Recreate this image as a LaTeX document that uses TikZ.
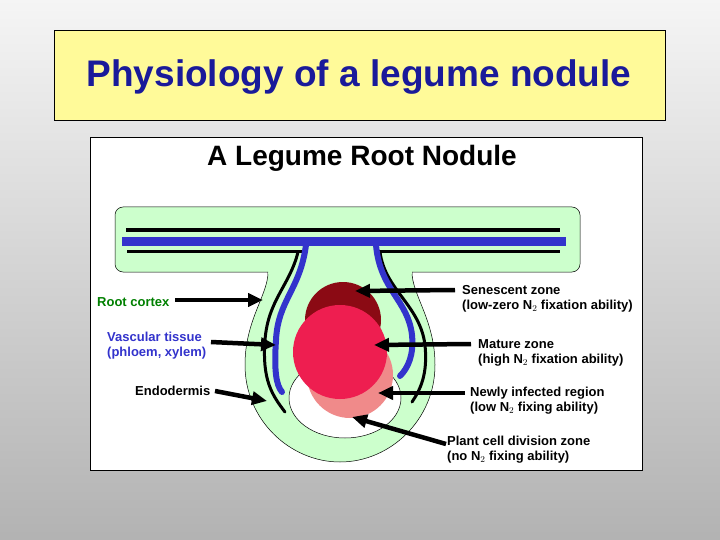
\documentclass[tikz,border=0pt]{standalone}
\usepackage{fontspec}
\setmainfont{Liberation Sans}
\usetikzlibrary{arrows.meta}
\definecolor{rootgreen}{HTML}{CCFFCC}
\definecolor{vasc}{HTML}{3333CC}
\definecolor{titleblue}{HTML}{1A1A9A}
\definecolor{darkred}{HTML}{8B0A14}
\definecolor{nodred}{HTML}{EE1E50}
\definecolor{nodpink}{HTML}{F08A8A}
\tikzset{
  lbl/.style={font=\bfseries\fontsize{13}{15}\selectfont, align=left, inner sep=0pt, anchor=west},
  arr/.style={line width=4.5pt, -{Triangle[length=15pt,width=13pt]}},
  vessel/.style={line width=6pt, vasc, line cap=round},
  endo/.style={line width=3pt, black, line cap=round},
}
\begin{document}
\begin{tikzpicture}[x=1pt,y=-1pt]
\shade[top color=gray!8, bottom color=gray!60] (0,0) rectangle (720,540);
\useasboundingbox (0,0) rectangle (720,540);
% title
\node[draw=black, line width=1pt, fill=yellow!40, minimum width=611pt, minimum height=90pt, anchor=north west] (titlebox) at (54,30) {};
\node[font=\bfseries\fontsize{37}{40}\selectfont, text=titleblue] (title) at (359,77) {Physiology of a legume nodule};
% panel
\node[draw=black, line width=1pt, fill=white, minimum width=552pt, minimum height=333pt, anchor=north west] (panel) at (90,137) {};
\node[font=\bfseries\fontsize{28}{30}\selectfont] (sub) at (362,158) {A Legume Root Nodule};
% root cortex (green)
\fill[rootgreen, rounded corners=8pt] (115,207) rectangle (580,272);
\filldraw[fill=rootgreen, line width=0.5pt] (268,272) .. controls (268,295) and (245,320) .. (245,365)
  .. controls (245,420) and (290,462) .. (340,462)
  .. controls (390,462) and (435,420) .. (435,365)
  .. controls (435,320) and (412,295) .. (412,272);
\fill[rootgreen] (268,265) rectangle (412,274);
\draw[line width=0.5pt, rounded corners=8pt] (268,272) -- (115,272) -- (115,207) -- (580,207) -- (580,272) -- (412,272);
% inner white zone
\filldraw[fill=white, line width=0.5pt] (345,398) ellipse [x radius=56, y radius=40];
% nodule
\fill[nodpink] (350,375) circle [radius=43];
\fill[darkred] (343,320) circle [radius=38];
\fill[nodred] (340,352) circle [radius=47];
% vascular lines
\draw[line width=3pt] (126,230) -- (560,230);
\draw[line width=3pt] (127,251) -- (302,251);
\draw[line width=3pt] (378,251) -- (560,251);
\draw[line width=9pt, vasc] (122,241) -- (566,241);
\draw[endo] (298,252) .. controls (290,285) and (268,300) .. (265,340) .. controls (262,380) and (272,395) .. (285,412);
\draw[endo] (380,252) .. controls (385,290) and (420,305) .. (425,345) .. controls (428,375) and (420,390) .. (412,402);
\draw[vessel] (306,245) .. controls (300,290) and (278,300) .. (276,340) .. controls (274,370) and (276,385) .. (282,392);
\draw[vessel] (376,245) .. controls (380,290) and (408,300) .. (412,335) .. controls (414,355) and (408,368) .. (400,376);
% labels
\node[lbl, text=green!50!black] (rc) at (97,302) {Root cortex};
\node[lbl, text=vasc] (vt) at (107,346) {Vascular tissue\\(phloem, xylem)};
\node[lbl] (en) at (135,391) {Endodermis};
\node[lbl] (sz) at (462,299) {Senescent zone\\(low-zero N$_2$ fixation ability)};
\node[lbl] (mz) at (478,353) {Mature zone\\(high N$_2$ fixation ability)};
\node[lbl] (ni) at (470,401) {Newly infected region\\(low N$_2$ fixing ability)};
\node[lbl] (pc) at (447,450) {Plant cell division zone\\(no N$_2$ fixing ability)};
\coordinate (rcT) at (263,300);
\coordinate (vtT) at (276,345);
\coordinate (enT) at (267,401);
\coordinate (szT) at (355,291);
\coordinate (mzT) at (374,345);
\coordinate (niT) at (378,393);
\coordinate (pcT) at (352,417);
\draw[arr] (175,300) -- (rcT);
\draw[arr] (211,342) -- (vtT);
\draw[arr] (215,391) -- (enT);
\draw[arr] (455,290) -- (szT);
\draw[arr] (471,344) -- (mzT);
\draw[arr] (465,393) -- (niT);
\draw[arr] (446,444) -- (pcT);
\end{tikzpicture}
\end{document}
